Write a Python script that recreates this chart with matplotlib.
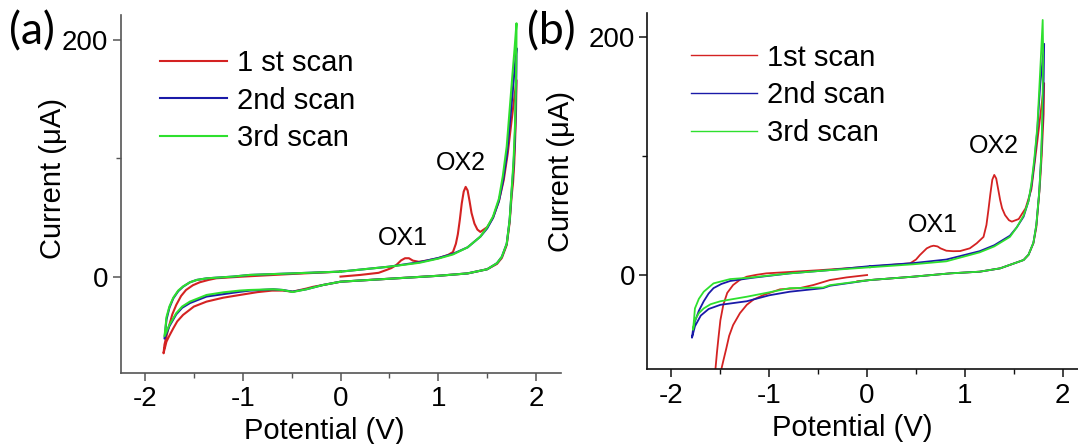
import matplotlib
matplotlib.use("Agg")
import matplotlib.pyplot as plt
import matplotlib.ticker as mticker

plt.rcParams["font.family"] = ["Liberation Sans", "DejaVu Sans"]

# ---- data: panel (a) ---------------------------------------------------------
A_V1 = [0.00, 0.20, 0.39, 0.47, 0.52, 0.57, 0.62, 0.66, 0.70, 0.74, 0.80, 0.88, 1.00, 1.10, 1.15, 1.18,
        1.20, 1.22, 1.24, 1.26, 1.28, 1.30, 1.32, 1.34, 1.37, 1.40, 1.43, 1.50, 1.56, 1.62, 1.67, 1.71,
        1.74, 1.77, 1.80,
        1.795, 1.787, 1.777, 1.765, 1.75, 1.73, 1.70, 1.65, 1.60, 1.50, 1.30, 1.00, 0.50, 0.00, -0.18,
        -0.28, -0.35, -0.49, -0.59, -0.70, -0.85, -1.03, -1.20, -1.37, -1.50, -1.61, -1.67, -1.71, -1.75,
        -1.78, -1.81,
        -1.80, -1.78, -1.76, -1.72, -1.68, -1.63, -1.58, -1.51, -1.44, -1.35, -1.27, -1.00, -0.50, 0.00]
A_I1 = [0.3, 1.7, 3.5, 5.9, 7.5, 10.0, 14.0, 15.8, 15.8, 13.8, 12.8, 13.8, 15.8, 18.6, 21.0, 28.0,
        36.0, 48.0, 62.0, 72.0, 76.0, 73.0, 64.0, 54.0, 45.0, 40.0, 38.0, 42.0, 50.0, 64.0, 82.0, 104.0,
        125.0, 146.0, 166.0,
        140.0, 118.0, 96.0, 80.0, 68.0, 46.0, 27.0, 16.0, 11.0, 6.5, 3.0, 1.0, -1.5, -4.0, -6.8,
        -8.3, -9.8, -12.4, -11.5, -11.5, -12.8, -15.2, -17.5, -20.8, -25.0, -32.0, -37.5, -43.3, -49.5,
        -54.6, -64.4,
        -57.0, -50.0, -43.3, -31.5, -23.6, -16.0, -11.0, -7.0, -4.5, -2.5, -1.1, 0.3, 2.5, 4.5]

A_V2 = [0.00, 0.50, 0.81, 1.00, 1.15, 1.30, 1.43, 1.50, 1.56, 1.62, 1.66, 1.70, 1.73, 1.76, 1.78, 1.80,
        1.797, 1.79, 1.78, 1.765, 1.75, 1.73, 1.70, 1.65, 1.60, 1.50, 1.30, 1.00, 0.50, 0.00, -0.18,
        -0.35, -0.49, -0.59, -0.69, -0.93, -1.03, -1.20, -1.37, -1.54, -1.62, -1.68, -1.75, -1.80,
        -1.79, -1.78, -1.75, -1.71, -1.66, -1.61, -1.54, -1.47, -1.37, -1.27, -1.10, -0.93, -0.50, 0.00]
A_I2 = [4.5, 8.7, 12.5, 16.0, 19.5, 25.0, 34.0, 41.0, 50.0, 64.0, 80.0, 102.0, 128.0, 155.0, 175.0, 193.0,
        165.0, 135.0, 110.0, 88.0, 72.0, 48.0, 28.0, 17.0, 11.6, 6.5, 3.0, 1.0, -1.5, -4.0, -6.8,
        -10.4, -12.4, -11.0, -10.4, -11.5, -12.5, -14.5, -16.5, -22.0, -26.0, -31.5, -41.5, -52.0,
        -44.0, -36.0, -26.0, -18.0, -12.0, -8.2, -4.5, -2.5, -1.2, -0.6, 0.3, 1.7, 3.0, 4.5]

A_V3 = [0.00, 0.50, 0.81, 1.00, 1.15, 1.30, 1.43, 1.50, 1.56, 1.62, 1.66, 1.70, 1.73, 1.76, 1.78, 1.80,
        1.798, 1.792, 1.785, 1.77, 1.75, 1.73, 1.70, 1.65, 1.60, 1.50, 1.30, 1.00, 0.50, 0.00, -0.18,
        -0.35, -0.49, -0.59, -0.69, -0.93, -1.03, -1.20, -1.37, -1.54, -1.62, -1.68, -1.75, -1.80,
        -1.79, -1.78, -1.75, -1.71, -1.66, -1.61, -1.54, -1.47, -1.37, -1.27, -1.10, -0.93, -0.50, 0.00]
A_I3 = [4.5, 8.7, 12.0, 15.5, 19.0, 25.0, 34.0, 42.0, 51.0, 66.0, 85.0, 110.0, 141.0, 172.0, 192.0, 214.0,
        185.0, 155.0, 128.0, 98.0, 73.0, 48.0, 28.0, 17.0, 11.6, 6.5, 3.0, 1.0, -1.5, -4.0, -6.8,
        -10.4, -12.7, -11.0, -10.4, -11.0, -11.5, -13.0, -15.2, -20.8, -25.0, -30.6, -40.5, -50.0,
        -43.0, -34.0, -25.0, -17.5, -11.5, -8.0, -4.5, -2.5, -1.2, -0.6, 0.3, 1.7, 3.0, 4.5]

# ---- data: panel (b) ---------------------------------------------------------
B_V1 = [0.00, -0.21, -0.38, -0.55, -0.69, -0.89, -1.06, -1.16, -1.23, -1.30, -1.37, -1.41, -1.44, -1.47,
        -1.49, -1.51,
        -1.56, -1.55, -1.535, -1.52, -1.50, -1.47, -1.43, -1.37, -1.30, -1.23, -1.13, -1.03, -0.50, 0.03,
        0.44, 0.50, 0.54, 0.58, 0.61, 0.65, 0.68, 0.72, 0.75, 0.81, 0.88, 0.95, 1.05, 1.12, 1.19, 1.22,
        1.24, 1.26, 1.28, 1.30, 1.32, 1.34, 1.36, 1.38, 1.41, 1.45, 1.48, 1.55, 1.62, 1.68, 1.74, 1.78, 1.81,
        1.805, 1.795, 1.785, 1.77, 1.76, 1.73, 1.70, 1.65, 1.60, 1.36, 1.15, 0.85, 0.47, 0.03, -0.10]
B_I1 = [0.0, -2.0, -4.2, -8.4, -11.0, -12.0, -16.8, -20.5, -25.0, -32.0, -42.0, -51.0, -61.8, -72.0,
        -79.0, -90.0,
        -90.0, -78.6, -65.0, -53.0, -38.0, -25.0, -15.0, -8.4, -4.0, -1.4, 0.2, 1.4, 4.0, 7.0,
        9.8, 13.0, 16.8, 20.0, 22.4, 24.0, 24.6, 24.0, 22.4, 20.4, 20.0, 20.1, 22.4, 26.6, 32.0, 42.0,
        54.5, 68.0, 80.0, 84.0, 81.0, 72.0, 63.0, 56.0, 50.3, 46.0, 44.8, 47.0, 56.0, 72.0, 112.0, 140.0, 161.0,
        135.0, 118.0, 100.0, 80.0, 68.6, 40.0, 26.6, 17.0, 12.6, 5.6, 2.8, 1.4, -1.4, -4.2, -5.2]

B_V2 = [0.03, 0.47, 0.81, 1.15, 1.30, 1.46, 1.53, 1.60, 1.65, 1.68, 1.71, 1.74, 1.77, 1.81,
        1.805, 1.80, 1.79, 1.78, 1.76, 1.73, 1.70, 1.65, 1.60, 1.36, 1.15, 0.85, 0.47, 0.03, -0.38,
        -0.45, -0.79, -1.00, -1.23, -1.50, -1.62, -1.70, -1.76, -1.79,
        -1.78, -1.76, -1.72, -1.67, -1.62, -1.57, -1.49, -1.40, -1.16, -0.79, -0.40, 0.03]
B_I2 = [7.5, 10.0, 13.0, 20.0, 25.0, 33.0, 40.0, 49.0, 62.0, 75.0, 95.0, 122.0, 160.0, 194.0,
        165.0, 145.0, 122.0, 100.0, 70.0, 42.0, 27.0, 17.0, 12.6, 5.6, 2.8, 1.4, -1.4, -4.2, -9.0,
        -11.0, -14.0, -17.0, -22.0, -25.0, -28.5, -34.0, -43.0, -52.6,
        -46.0, -39.0, -30.0, -22.0, -15.5, -11.0, -7.5, -5.0, -2.2, 1.4, 4.0, 7.5]

B_V3 = [0.03, 0.47, 0.81, 1.15, 1.30, 1.46, 1.53, 1.60, 1.65, 1.68, 1.71, 1.74, 1.775, 1.795,
        1.80, 1.795, 1.79, 1.78, 1.76, 1.73, 1.70, 1.65, 1.60, 1.36, 1.15, 0.85, 0.47, 0.03, -0.38,
        -0.45, -0.79, -1.00, -1.23, -1.50, -1.60, -1.67, -1.72, -1.76, -1.78,
        -1.77, -1.76, -1.72, -1.67, -1.57, -1.40, -1.20, -0.79, -0.40, 0.03]
B_I3 = [6.5, 9.0, 11.5, 19.0, 24.0, 32.0, 40.0, 50.0, 62.0, 77.0, 98.0, 124.0, 180.0, 214.0,
        185.0, 155.0, 130.0, 100.0, 70.0, 42.0, 27.0, 17.0, 12.6, 5.6, 2.8, 1.4, -1.4, -4.2, -8.5,
        -10.5, -11.0, -14.5, -18.2, -22.0, -24.5, -28.0, -32.0, -37.8, -46.0,
        -38.0, -28.0, -20.0, -14.0, -7.0, -3.4, -2.2, 1.4, 4.0, 6.5]

A_LABELS = ["1 st scan", "2nd scan", "3rd scan"]
B_LABELS = ["1st scan", "2nd scan", "3rd scan"]

C_RED = "#d42222"; C_BLUE = "#1a1aa8"; C_GREEN = "#2ee02e"

fig = plt.figure(figsize=(10.78, 4.44), dpi=100, facecolor="white")


def style_axes(ax, xlim, ylim, spine_col):
    ax.set_xlim(*xlim); ax.set_ylim(*ylim)
    for s in ["top", "right"]:
        ax.spines[s].set_visible(False)
    for s in ["left", "bottom"]:
        ax.spines[s].set_color(spine_col)
        ax.spines[s].set_linewidth(1.2)
    ax.xaxis.set_major_locator(mticker.MultipleLocator(1))
    ax.xaxis.set_minor_locator(mticker.MultipleLocator(0.5))
    ax.yaxis.set_major_locator(mticker.MultipleLocator(200))
    ax.yaxis.set_minor_locator(mticker.MultipleLocator(100))
    ax.xaxis.set_major_formatter(mticker.FuncFormatter(lambda v, _: f"{v:.0f}".replace("\u2212", "-")))
    ax.tick_params(which="major", direction="out", length=6, width=1.1, color=spine_col,
                   labelsize=20, pad=4)
    ax.tick_params(which="minor", direction="out", length=3.5, width=1.0, color=spine_col)
    ax.tick_params(axis="y", pad=3)
    ax.set_xlabel("Potential (V)", fontsize=21)
    ax.set_ylabel("Current (\u03bcA)", fontsize=21)


# ─── Panel (a) ────────────────────────────────────────────────────────────
ax_a = fig.add_axes([120.5/1078, 1 - 372.5/444, 440/1078, 357.5/444])
ax_a.plot(A_V1, A_I1, color=C_RED, lw=1.5, label=A_LABELS[0])
ax_a.plot(A_V2, A_I2, color=C_BLUE, lw=1.5, label=A_LABELS[1])
ax_a.plot(A_V3, A_I3, color=C_GREEN, lw=1.5, label=A_LABELS[2])
style_axes(ax_a, (-2.25, 2.25), (-80.6, 221), "#555555")
ax_a.xaxis.set_label_coords(0.464, -0.125)
ax_a.yaxis.set_label_coords(-0.122, 0.544)
ax_a.text(0.64, 33, "OX1", fontsize=18, ha="center", va="center")
ax_a.text(1.235, 96, "OX2", fontsize=18, ha="center", va="center")
ax_a.legend(loc="upper left", bbox_to_anchor=(0.0898, 0.905), frameon=False, fontsize=21,
            handlelength=2.3, handletextpad=0.35, labelspacing=0.33, borderpad=0, borderaxespad=0)
fig.text(9/1078, 1 - 32/444, "(a)", fontsize=32, family=["Lato", "DejaVu Sans"], va="center", ha="left")

# ─── Panel (b) ────────────────────────────────────────────────────────────
ax_b = fig.add_axes([647.4/1078, 1 - 369.3/444, 430.6/1078, 356/444])
ax_b.plot(B_V1, B_I1, color=C_RED, lw=1.3, label=B_LABELS[0])
ax_b.plot(B_V2, B_I2, color=C_BLUE, lw=1.3, label=B_LABELS[1])
ax_b.plot(B_V3, B_I3, color=C_GREEN, lw=1.3, label=B_LABELS[2])
style_axes(ax_b, (-2.246, 2.156), (-79.1, 219.6), "#111111")
ax_b.xaxis.set_label_coords(0.475, -0.125)
ax_b.yaxis.set_label_coords(-0.167, 0.557)
ax_b.text(0.676, 42, "OX1", fontsize=18, ha="center", va="center")
ax_b.text(1.30, 108, "OX2", fontsize=18, ha="center", va="center")
leg_b = ax_b.legend(loc="upper left", bbox_to_anchor=(0.1024, 0.915), frameon=False, fontsize=21,
                    handlelength=2.25, handletextpad=0.35, labelspacing=0.33, borderpad=0, borderaxespad=0)
for h in leg_b.get_lines():
    h.set_linewidth(1.0)
fig.text(527/1078, 1 - 32/444, "(b)", fontsize=32, family=["Lato", "DejaVu Sans"], va="center", ha="left")

fig.savefig("out.png", dpi=100, facecolor="white")
